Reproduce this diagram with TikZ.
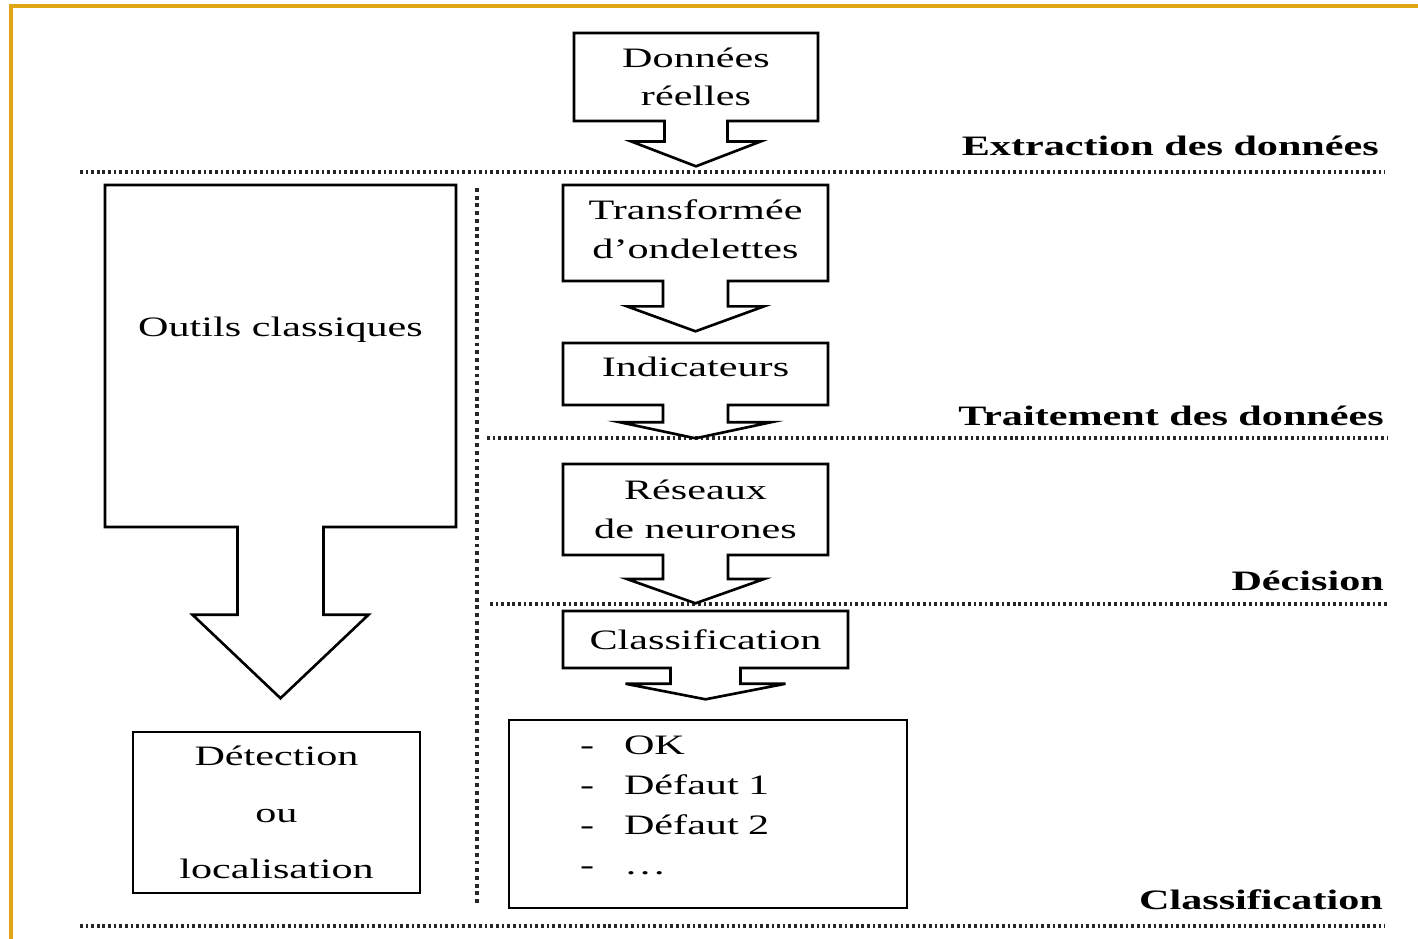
\documentclass[tikz,border=0pt]{standalone}
\usepackage{fontspec}
\setmainfont[FakeStretch=1.5]{Liberation Serif}
\usepackage{tikz}
\usetikzlibrary{shapes.arrows}
\definecolor{cadre}{RGB}{222,166,20}

\begin{document}
\begin{tikzpicture}[x=0.02cm, y=-0.02cm,
  font=\fontsize{16}{22}\selectfont,
  etape/.style={draw, line width=1.5pt, arrow box, align=center, inner sep=0pt,
    arrow box tip angle=140, arrow box head extend=0.72cm, arrow box shaft width=1.3cm},
  boite/.style={draw, line width=1.5pt, inner sep=0pt},
  titre/.style={anchor=east, font=\fontsize{16}{22}\selectfont\bfseries},
  sep/.style={draw=black!85, line width=1.8pt, dash pattern=on 1.5pt off 1.7pt}]
\useasboundingbox (0,0) rectangle (1418,939);
\draw[cadre, line width=2pt] (11,939) -- (11,6) -- (1418,6);
\draw[sep] (80,172) -- (1385,172);
\draw[sep] (487,438) -- (1388,438);
\draw[sep] (490,604) -- (1388,604);
\draw[sep] (80,926) -- (1385,926);
\draw[sep, dash pattern=on 2.2pt off 2.2pt] (477,188) -- (477,905);
\node[etape, minimum width=4.88cm, minimum height=1.76cm, arrow box shaft width=1.26cm,
  arrow box head extend=0.66cm, arrow box tip angle=138, arrow box arrows={south:0.88cm}]
  (donnees) at (696,77) {Données\\réelles};
\node[etape, minimum width=5.3cm, minimum height=1.92cm, arrow box arrows={south:0.98cm}]
  (ondelettes) at (695.5,233) {\raisebox{0.07cm}[\height][\depth]{Transformée}\\
  \raisebox{0.07cm}[\height][\depth]{d’ondelettes}};
\node[etape, minimum width=5.3cm, minimum height=1.24cm, arrow box tip angle=156,
  arrow box head extend=0.86cm, arrow box arrows={south:0.64cm}]
  (indicateurs) at (695.5,374) {\raisebox{0.14cm}[\height][\depth]{Indicateurs}};
\node[etape, minimum width=5.3cm, minimum height=1.82cm, arrow box tip angle=141,
  arrow box arrows={south:0.94cm}]
  (reseaux) at (695.5,509.5) {Réseaux\\de neurones};
\node[etape, minimum width=5.7cm, minimum height=1.14cm, arrow box shaft width=1.4cm,
  arrow box head extend=0.9cm, arrow box tip angle=158, arrow box arrows={south:0.6cm}]
  (classification) at (705.5,639.5) {Classification};
\node[etape, minimum width=7.02cm, minimum height=6.84cm, text height=0.4cm, text depth=1.2cm,
  arrow box shaft width=1.72cm, arrow box head extend=0.9cm, arrow box tip angle=93,
  arrow box arrows={south:3.4cm}]
  (outils) at (280.5,356) {Outils classiques};
\node[boite, minimum width=5.74cm, minimum height=3.22cm, align=center,
  font=\fontsize{16}{32}\selectfont]
  (detection) at (276.5,812.5) {Détection\\ou\\localisation};
\node[boite, text width=7.96cm, minimum height=3.76cm, align=left]
  (classes) at (708,814) {\renewcommand\arraystretch{1.03}%
  \raisebox{0.15cm}[\height][\depth]{%
  \begin{tabular}{@{\hspace{1.42cm}}l@{\hspace{0.6cm}}l@{}}
  - & OK\\
  - & Défaut 1\\
  - & Défaut 2\\
  - & …
  \end{tabular}}};
\node[titre] (extraction) at (1385,146) {Extraction des données};
\node[titre] (traitement) at (1390,416) {Traitement des données};
\node[titre] (decision) at (1390,581) {Décision};
\node[titre] (resultat) at (1389,900) {Classification};
\end{tikzpicture}
\end{document}
